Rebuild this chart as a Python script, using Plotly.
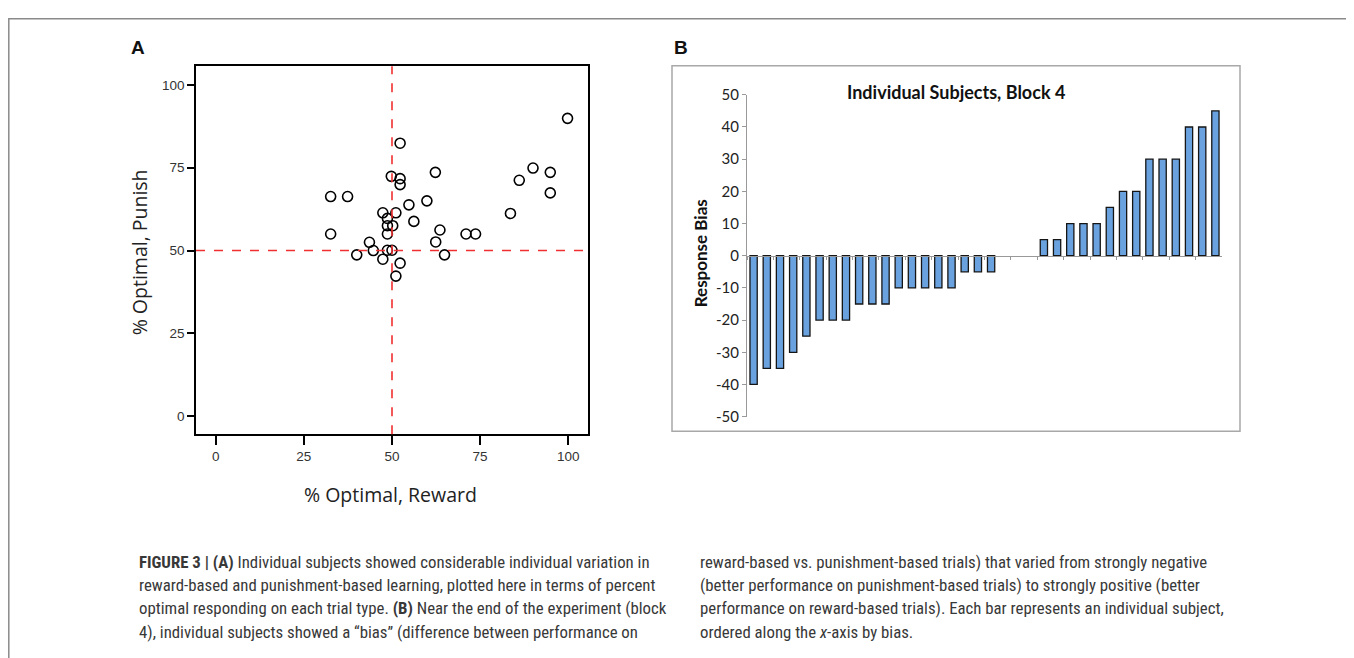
import plotly.graph_objects as go

# page offset (browser body margin) compensation
OFF = 8
W, H = 1354 - OFF, 658 - OFF

# ---- Panel A data: % optimal (reward, punish) per subject ----
reward = [52.3, 62.3, 49.8, 52.3, 52.3, 32.6, 37.4, 59.9, 54.8, 47.4, 51.1, 48.7,
          56.2, 48.7, 50.2, 63.6, 32.6, 48.7, 71.0, 73.7, 43.6, 62.4, 40.0, 44.7,
          48.7, 50.0, 64.9, 47.4, 52.3, 51.1, 99.8, 90.0, 94.9, 86.1, 94.9, 83.6]
punish = [82.4, 73.6, 72.4, 71.7, 69.9, 66.3, 66.3, 65.0, 63.8, 61.4, 61.4, 59.7,
          58.8, 57.5, 57.5, 56.2, 55.0, 55.0, 55.0, 55.0, 52.5, 52.6, 48.7, 50.0,
          50.1, 50.1, 48.7, 47.4, 46.2, 42.3, 89.9, 74.9, 73.6, 71.2, 67.4, 61.2]
a_ticks = [0, 25, 50, 75, 100]

# ---- Panel B data: response bias per subject (ordered) ----
subjects = [str(i) for i in range(1, 37)]
bias = [-40, -35, -35, -30, -25, -20, -20, -20, -15, -15, -15, -10, -10, -10, -10, -10,
        -5, -5, -5, 0, 0, 0, 5, 5, 10, 10, 10, 15, 20, 20, 30, 30, 30, 40, 40, 45]
b_ticks = [50, 40, 30, 20, 10, 0, -10, -20, -30, -40, -50]


def px(x):
    return (x - OFF) / W


def py(y):
    return 1 - (y - OFF) / H


fig = go.Figure()

fig.add_trace(go.Scatter(
    x=reward, y=punish, mode="markers", xaxis="x", yaxis="y",
    marker=dict(symbol="circle-open", size=10, color="#000000", line=dict(width=1.6)),
    showlegend=False, hoverinfo="x+y"))

fig.add_trace(go.Bar(
    x=subjects, y=bias, xaxis="x2", yaxis="y2", width=0.55,
    marker=dict(color="#6aa2e0",
                line=dict(color="#151515", width=[0 if v == 0 else 1.3 for v in bias])),
    showlegend=False))

# reference lines at 50%
fig.add_shape(type="line", xref="x", yref="y domain", x0=50, x1=50, y0=0, y1=1,
              line=dict(color="#f03030", width=1.6, dash="dash"))
fig.add_shape(type="line", xref="x domain", yref="y", x0=0, x1=1, y0=50, y1=50,
              line=dict(color="#f03030", width=1.6, dash="dash"))

# panel B gray box
fig.add_shape(type="rect", xref="paper", yref="paper",
              x0=px(672), x1=px(1240), y0=py(433), y1=py(57),
              line=dict(color="#a8a8a8", width=1.5))
# outer figure frame
fig.add_shape(type="rect", xref="paper", yref="paper",
              x0=px(8.8), x1=px(1352), y0=-0.05, y1=py(8.8),
              line=dict(color="#8a8a8a", width=1.5))

ann = []
ann.append(dict(text="<b>A</b>", x=px(138), y=py(38), font=dict(size=19, family="Liberation Sans", color="#111")))
ann.append(dict(text="<b>B</b>", x=px(681), y=py(38), font=dict(size=19, family="Liberation Sans", color="#111")))
ann.append(dict(text="% Optimal, Punish", x=px(139), y=py(249), textangle=-90,
                font=dict(size=19.5, family="Open Sans", color="#222")))
ann.append(dict(text="% Optimal, Reward", x=px(390), y=py(498),
                font=dict(size=19.5, family="Open Sans", color="#222")))
ann.append(dict(text="<b>Individual Subjects, Block 4</b>", x=px(956), y=py(84),
                font=dict(size=18, family="Lato", color="#111")))
ann.append(dict(text="<b>Response Bias</b>", x=px(700), y=py(250), textangle=-90,
                font=dict(size=17, family="Lato", color="#111")))

cap_font = dict(size=16.8, family="Liberation Sans Narrow, Roboto Condensed, Roboto", color="#383838")
left_lines = [
    "<b>FIGURE 3 | (A)</b> Individual subjects showed considerable individual variation in",
    "reward-based and punishment-based learning, plotted here in terms of percent",
    "optimal responding on each trial type. <b>(B)</b> Near the end of the experiment (block",
    "4), individual subjects showed a \u201cbias\u201d (difference between performance on",
]
right_lines = [
    "reward-based vs. punishment-based trials) that varied from strongly negative",
    "(better performance on punishment-based trials) to strongly positive (better",
    "performance on reward-based trials). Each bar represents an individual subject,",
    "ordered along the <i>x</i>-axis by bias.",
]
line_y = [567, 591, 615, 639]
for t, yy in zip(left_lines, line_y):
    ann.append(dict(text=t, x=px(137), y=py(yy), xanchor="left", font=cap_font))
for t, yy in zip(right_lines, line_y):
    ann.append(dict(text=t, x=px(698), y=py(yy), xanchor="left", font=cap_font))

for a in ann:
    a.setdefault("xanchor", "center")
    a.update(xref="paper", yref="paper", showarrow=False, yanchor="middle")

tickfA = dict(size=13.5, family="Liberation Sans", color="#333")
fig.update_layout(
    width=W, height=H, margin=dict(l=0, r=0, t=0, b=0),
    paper_bgcolor="white", plot_bgcolor="white",
    annotations=ann,
    xaxis=dict(domain=[px(196), px(588)], anchor="y", range=[-5.6, 105.6],
               tickvals=a_ticks, ticks="outside", ticklen=9, tickwidth=1.5, tickcolor="#000",
               showline=True, linecolor="#000", linewidth=1.6, mirror=True,
               showgrid=False, zeroline=False, tickfont=tickfA),
    yaxis=dict(domain=[py(436), py(57.7)], anchor="x", range=[-5.4, 105.6],
               tickvals=a_ticks, ticks="outside", ticklen=7, tickwidth=1.5, tickcolor="#000",
               showline=True, linecolor="#000", linewidth=1.6, mirror=True,
               showgrid=False, zeroline=False, tickfont=tickfA),
    xaxis2=dict(domain=[px(747), px(1222)], anchor="free",
                position=(py(418) + py(87)) / 2,
                type="category", tickson="boundaries", ticks="outside", ticklen=3,
                tickcolor="#999", showticklabels=False, showline=True,
                linecolor="#999", linewidth=1, showgrid=False, zeroline=False),
    yaxis2=dict(domain=[py(418), py(87)], anchor="x2", range=[-50, 50],
                tickvals=b_ticks, ticktext=[str(v) for v in b_ticks],
                ticks="outside", ticklen=4, tickcolor="#999", showline=True,
                linecolor="#999", linewidth=1, showgrid=False, zeroline=False,
                tickfont=dict(size=15, family="Lato", color="#222")),
    bargap=0.45,
)

fig.write_html("out.html")
